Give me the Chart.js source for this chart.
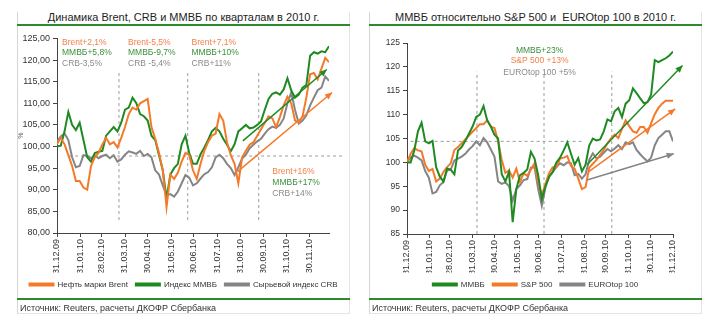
<!DOCTYPE html>
<html lang="ru">
<head>
<meta charset="utf-8">
<script src="https://cdn.jsdelivr.net/npm/chart.js@4.4.1/dist/chart.umd.min.js"></script>
<style>
  body { margin: 0; background: #fff; font-family: "Liberation Sans", Arial, sans-serif; color: #222; }
  .panel { position: absolute; top: 12px; width: 333px; height: 302px; box-sizing: border-box;
           border-left: 1px solid #d6d6d6; border-right: 1px solid #e4e4e4; border-bottom: 1px solid #e4e4e4; }
  .title { position: absolute; top: 10px; width: 333px; text-align: center; font-size: 11px; line-height: 14px; color: #1e1e1e; }
  .rule { position: absolute; height: 2px; width: 333px; background: #2b8a2b; }
  .src { position: absolute; top: 302px; font-size: 9px; line-height: 12px; color: #333; }
  canvas { position: absolute; top: 30px; }
</style>
</head>
<body>
<div class="panel" style="left:17px"></div>
<div class="panel" style="left:369px"></div>

<div class="title" style="left:17px">Динамика Brent, CRB и ММВБ по кварталам в 2010 г.</div>
<div class="title" style="left:369px">ММВБ относительно S&amp;P 500 и&nbsp; EUROtop 100 в 2010 г.</div>
<div class="rule" style="left:17px; top:24px"></div>
<div class="rule" style="left:369px; top:24px"></div>

<canvas id="leftChart" width="333" height="270" style="left:17px"></canvas>
<canvas id="rightChart" width="333" height="270" style="left:369px"></canvas>

<div class="rule" style="left:17px; top:298px"></div>
<div class="rule" style="left:369px; top:298px"></div>
<div class="src" style="left:20px">Источник: Reuters, расчеты ДКОФР Сбербанка</div>
<div class="src" style="left:372px">Источник: Reuters, расчеты ДКОФР Сбербанка</div>

<script>
// days since 31.12.09, one point every 5 days
const days = [0,5,10,15,20,25,30,35,40,45,50,55,60,65,70,75,80,85,90,95,100,105,110,115,120,125,130,135,140,145,
  150,155,160,165,170,175,180,185,190,195,200,205,210,215,220,225,230,235,240,245,250,255,260,265,270,275,280,285,290,295,
  300,305,310,315,320,325,330,335,340,345,350,355,360,365];

const tickDays = [0,31,59,90,120,151,181,212,243,273,304,334,365];
const tickLabels = ['31.12.09','31.01.10','28.02.10','31.03.10','30.04.10','31.05.10','30.06.10',
  '31.07.10','31.08.10','30.09.10','31.10.10','30.11.10','31.12.10'];

// left chart: Brent, MMVB, CRB (31.12.09 = 100)
const brent = [100.5,102,100.5,98,95.5,92,92,90.5,90,95.5,97.5,98.5,100.5,102,100.5,101,99.8,102,104.5,107.5,
  109,108.5,110,110.5,111,104.5,101.8,98.5,94.5,86,93.5,92.5,94,96.5,98.5,98,94.5,92.5,96,99,
  101,102.5,103,107.5,106,101,98,96,91.5,97.5,99,100.4,101,102.5,104,105.5,107,106.5,104.5,106.8,
  109.5,111.5,110,106,105.5,107,111.3,116.7,117,115.5,118,120.5,119.5];
const micexLeft = [100,100.2,103.5,108,105,103.8,105.5,101.5,97.5,96.5,98.5,98.8,99,102.5,103.5,104.5,103.5,105.5,108.5,109,
  111.3,110,107.5,107,106,102.5,101.5,98,94.5,88,93.5,95,96,100.5,102.5,98.5,96,96,98.2,99.8,
  101.5,103.5,104.3,103.5,101.8,100.4,98.9,100.5,103.5,104.2,105,104.2,104.4,105,105.8,108.5,111,112.2,112.5,112,
  113.2,115.8,113,111.3,112,113.6,114.2,121,121.8,121.5,122,121.8,123.2];
const crb = [101.2,102.3,103,101.5,97.5,95.2,95.5,98,97.8,97.3,98,97.3,97.8,98.1,97.3,98,96.5,97,98.1,98.9,
  98.6,98.3,99,97.8,98.3,97.5,94.5,93.5,91,88.7,89,88.4,89.6,91.5,93.4,92.8,91,91.5,92.6,93.6,
  94.1,95.2,97.5,98.1,97.3,96,95,93.4,95.2,97.2,98.1,99.6,100.4,101.2,101.8,103,104,104.6,104.3,105,
  106.5,110,112.5,108.5,105.3,106,107.2,109.5,111.3,113,113.6,116.2,115.2];

// right chart: MMVB, S&P 500, EUROtop 100 (31.12.09 = 100)
const micexRight = [100,100,102.5,106.5,108.3,104.4,104,104.5,99,97,96,98.7,98.5,97.5,102.5,103.2,104.5,106,107.5,109.5,
  110,111.8,108.8,107.5,105.8,105,97.5,96,98,87.5,94.4,97.3,97.8,98.5,102.2,100.8,97.3,92.3,95,97,
  98,100,101,102.5,104.2,101.8,99.5,100.9,98.1,99.5,103.5,105,104.6,104.8,106.5,109,108.6,110.7,111.4,109.5,
  112.3,113,115.5,114.5,113.4,112.4,112.6,114.2,121.4,121,121.4,121.8,122.4,123.2];
const sp500 = [100,101.8,103,102.5,102.3,99.5,98.2,98.6,96,96.6,98,99,99.8,102.6,103.2,104,104.8,105.6,106.4,107.2,
  108,108,108.8,107.5,107.2,104.5,100.5,97.8,98.3,96.8,98.7,95.9,97.7,97.2,98.5,99.8,95.9,93.1,95.5,97.8,
  99,99,100.8,101,101.3,99.2,98.7,96.6,94.4,94.8,98.9,99.7,100.5,101.6,102.6,104,105,105.8,105.1,107,
  108.8,107.6,106.5,106.2,107.4,107.4,106.2,108.2,110.1,111.4,112.3,112.9,112.9,112.9];
const eurotop = [100,101,101.4,101,100.4,98.2,96.8,93.5,93.8,95.2,95.9,98.3,98.5,100.4,100.8,101.2,101.8,102.7,103.4,104.4,
  103.6,105.1,104.2,102.7,101.2,96,95.5,95.8,95,92,94.4,95.2,96.3,96.5,98.9,99,94.4,90.9,94.8,97,
  98,99,99.8,99.4,100,99.8,97.3,97.6,96.6,97.5,100.5,101.9,100.8,101.2,102,102.8,102.3,102.9,103.6,102.8,
  104.2,103.8,104.2,102.6,101.7,100.9,100.2,101,103.6,105.1,105.8,106.5,106.5,104.4];

const ORANGE = '#f47a2a', GREEN = '#1f8a22', GRAY = '#858585';
const NOTE_ORANGE = '#f3804a', NOTE_GREEN = '#3c8f3c', NOTE_GRAY = '#8a8a8a';

// dashed guides and trend arrows, in chart units [day, value]
const leftGuides = [[[82,83],[82,117]], [[173,83],[173,117]], [[267,83],[267,117]], [[16,97.8],[378,97.8]]];
const rightGuides = [[[96,85],[96,119]], [[188,85],[188,119]], [[281,85],[281,119]], [[5,104.4],[240,104.4]]];
const leftArrows = [[[[246,101.3],[357,117.8]], GREEN], [[[239,94.2],[364,112.5]], ORANGE]];
const rightArrows = [[[[247,99.5],[378,120.3]], GREEN], [[[249,98],[368,111.2]], ORANGE], [[[247,96.3],[366,101.8]], GRAY]];

const leftNotes = [
  [6.6,124.1,'Brent+2,1%',NOTE_ORANGE], [6.6,121.7,'ММВБ+5,8%',NOTE_GREEN], [6.6,119.2,'CRB-3,5%',NOTE_GRAY],
  [94,124.1,'Brent-5,5%',NOTE_ORANGE], [94,121.7,'ММВБ-9,7%',NOTE_GREEN], [94,119.2,'CRB -5,4%',NOTE_GRAY],
  [178,124.1,'Brent+7,1%',NOTE_ORANGE], [178,121.7,'ММВБ+10%',NOTE_GREEN], [178,119.2,'CRB+11%',NOTE_GRAY],
  [285,94.2,'Brent+16%',NOTE_ORANGE], [285,91.6,'ММВБ+17%',NOTE_GREEN], [285,89,'CRB+14%',NOTE_GRAY]
];
const rightNotes = [
  [182,123.5,'ММВБ+23%',NOTE_GREEN], [182,121.2,'S&P 500 +13%',NOTE_ORANGE], [182,118.8,'EUROtop 100 +5%',NOTE_GRAY]
];

Chart.defaults.font.family = '"Liberation Sans", Arial, sans-serif';
Chart.defaults.color = '#333';

const arrowHeads = {
  id: 'arrowHeads',
  afterDatasetsDraw(chart) {
    const ctx = chart.ctx;
    chart.data.datasets.forEach((ds, i) => {
      if (!ds.arrow) return;
      const pts = chart.getDatasetMeta(i).data;
      const a = pts[pts.length - 2], b = pts[pts.length - 1];
      const ang = Math.atan2(b.y - a.y, b.x - a.x);
      const len = 7, wid = 3.2;
      ctx.save();
      ctx.fillStyle = ds.borderColor;
      ctx.beginPath();
      ctx.moveTo(b.x, b.y);
      ctx.lineTo(b.x - len * Math.cos(ang) + wid * Math.sin(ang), b.y - len * Math.sin(ang) - wid * Math.cos(ang));
      ctx.lineTo(b.x - len * Math.cos(ang) - wid * Math.sin(ang), b.y - len * Math.sin(ang) + wid * Math.cos(ang));
      ctx.closePath();
      ctx.fill();
      ctx.restore();
    });
  }
};

const notes = {
  id: 'notes',
  afterDatasetsDraw(chart, args, opts) {
    const {ctx, scales: {x, y}} = chart;
    ctx.save();
    ctx.font = '8.5px "Liberation Sans", Arial, sans-serif';
    ctx.textBaseline = 'middle';
    ctx.textAlign = opts.align || 'left';
    (opts.items || []).forEach(([d, v, text, color]) => {
      ctx.fillStyle = color;
      ctx.fillText(text, x.getPixelForValue(d), y.getPixelForValue(v));
    });
    ctx.restore();
  }
};

function series(label, values, color) {
  return {
    label: label,
    data: values.map((v, i) => ({x: days[i], y: v})),
    borderColor: color, backgroundColor: color,
    borderWidth: 2, pointRadius: 0, tension: 0, order: 1
  };
}

function guide(pts) {
  return {
    label: '', data: pts.map(p => ({x: p[0], y: p[1]})),
    borderColor: '#9c9c9c', borderWidth: 1, borderDash: [3, 3],
    pointRadius: 0, order: 5, clip: false, noLegend: true
  };
}

function arrow(pts, color) {
  return {
    label: '', data: pts.map(p => ({x: p[0], y: p[1]})),
    borderColor: color, borderWidth: 1.5,
    pointRadius: 0, order: 0, clip: false, noLegend: true, arrow: true
  };
}

function makeChart(id, cfg) {
  const datasets = cfg.lines
    .concat(cfg.guides.map(guide))
    .concat(cfg.arrows.map(a => arrow(a[0], a[1])));

  return new Chart(document.getElementById(id), {
    type: 'line',
    data: { datasets: datasets },
    options: {
      responsive: false,
      animation: false,
      layout: { padding: cfg.padding },
      scales: {
        x: {
          type: 'linear', min: 0, max: cfg.xMax,
          afterBuildTicks: s => { s.ticks = cfg.tickDays.map(v => ({value: v})); },
          afterFit: s => { s.height = cfg.xHeight; },
          ticks: {
            autoSkip: false, minRotation: 90, maxRotation: 90, padding: 2,
            font: { size: 9 }, color: '#333',
            callback: v => tickLabels[tickDays.indexOf(v)]
          },
          grid: { drawOnChartArea: false, tickLength: 4, color: '#444' },
          border: { color: '#444' }
        },
        y: {
          min: cfg.yMin, max: 125,
          afterFit: s => { s.width = cfg.yWidth; },
          ticks: { stepSize: 5, padding: 3, font: { size: cfg.yFont }, color: '#333', callback: cfg.yFormat },
          title: cfg.yTitle,
          grid: { drawOnChartArea: false, tickLength: 4, color: '#444' },
          border: { color: '#444' }
        },
        // empty right-hand margin, so the legend keeps the full canvas width
        gap: {
          type: 'linear', position: 'right', min: 0, max: 1,
          afterFit: s => { s.width = cfg.rightGap; },
          ticks: { display: false },
          grid: { display: false },
          border: { display: false }
        }
      },
      plugins: {
        legend: {
          position: 'bottom',
          labels: {
            boxWidth: 24, boxHeight: 2, padding: 8, color: '#333', font: { size: 8 },
            filter: (item, data) => !data.datasets[item.datasetIndex].noLegend
          }
        },
        tooltip: { enabled: false },
        notes: { items: cfg.notes, align: cfg.noteAlign }
      }
    },
    plugins: [arrowHeads, notes]
  });
}

makeChart('leftChart', {
  lines: [series('Нефть марки Brent', brent, ORANGE), series('Индекс ММВБ', micexLeft, GREEN), series('Сырьевой индекс CRB', crb, GRAY)],
  guides: leftGuides, arrows: leftArrows, notes: leftNotes, noteAlign: 'left',
  xMax: 360, tickDays: tickDays.slice(0, 12), xHeight: 39.5,
  yMin: 80, yWidth: 40, yFont: 9, rightGap: 21,
  yFormat: v => v.toFixed(2).replace('.', ','),
  yTitle: { display: true, text: '%', font: { size: 7 }, color: '#666', padding: 0 },
  padding: { left: 0, right: 0, top: 8, bottom: 1.5 }
});

makeChart('rightChart', {
  lines: [series('ММВБ', micexRight, GREEN), series('S&P 500', sp500, ORANGE), series('EUROtop 100', eurotop, GRAY)],
  guides: rightGuides, arrows: rightArrows, notes: rightNotes, noteAlign: 'center',
  xMax: 365, tickDays: tickDays, xHeight: 38.5,
  yMin: 85, yWidth: 38, yFont: 8.5, rightGap: 29,
  yFormat: v => String(v),
  yTitle: { display: false },
  padding: { left: 0, right: 0, top: 13, bottom: 1.5 }
});
</script>
</body>
</html>
